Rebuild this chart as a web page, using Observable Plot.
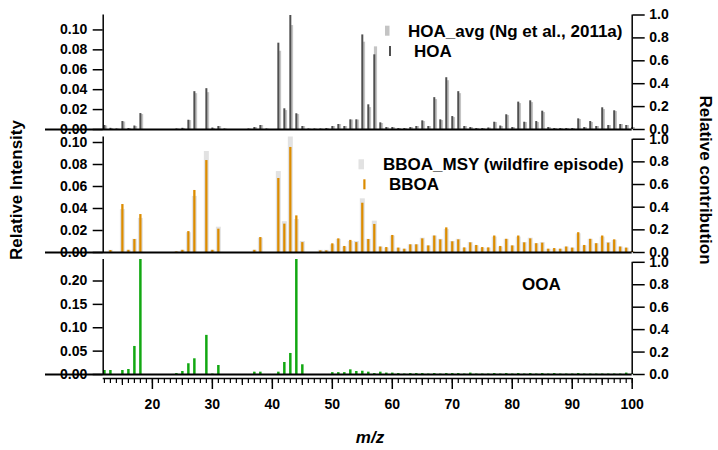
<!DOCTYPE html>
<html><head><meta charset="utf-8">
<script src="https://cdn.jsdelivr.net/npm/d3@7"></script>
<script src="https://cdn.jsdelivr.net/npm/@observablehq/plot@0.6"></script>
<style>
html,body{margin:0;padding:0;background:#fff;}
#chart{position:relative;width:718px;height:450px;font-family:"Liberation Sans",Arial,sans-serif;}
#chart svg{position:absolute;left:0;top:0;}
</style></head><body><div id="chart"></div>
<script>
// m/z categories 12..100
const mz = d3.range(12, 101);

const hoa = [
  [.004,.0012,.0005,.008,.001,.0035,.016,0],
  [0,0,0,0,.0005,.0012,.0093,.038,0,.041],
  [.0015,.003,.0005,0,0,0,.0005,.002,.004,.0005],
  [0,.0867,.0208,.1145,.0158,.003,.0005,.0005,.0005,.001],
  [.003,.005,.003,.0097,.0097,.095,.0248,.075,.0067,.002],
  [.002,.001,.001,.002,.003,.0087,.003,.032,.0097,.052],
  [.013,.038,.003,.002,.001,.001,.0015,.0073,.0035,.0148],
  [.002,.0275,.0073,.0288,.008,.0184,.002,.001,.001,.001],
  [.001,.0107,.002,.008,.003,.0218,.004,.0188,.005,.004],
  [.002]
].flat();

const hoaAvg = [
  [.0035,.001,.0005,.0075,.001,.003,.015,0],
  [0,0,0,0,.0005,.001,.009,.036,0,.037],
  [.001,.003,.0005,0,0,0,.0005,.002,.004,.0005],
  [0,.0786,.019,.1044,.015,.003,.0005,.0005,.0005,.001],
  [.003,.005,.003,.0095,.0095,.0877,.022,.083,.006,.002],
  [.002,.001,.001,.002,.003,.008,.003,.030,.009,.049],
  [.012,.036,.003,.002,.001,.001,.0015,.007,.003,.014],
  [.002,.026,.007,.027,.007,.017,.002,.001,.001,.001],
  [.001,.010,.002,.007,.003,.020,.004,.018,.005,.004],
  [.002]
].flat();

const bboa = [
  [0,.0018,0,.0436,.002,.0118,.0345,0],
  [0,0,0,0,.0005,.002,.019,.0564,0,.0836],
  [.002,.0212,0,0,0,0,0,.002,.0136,0],
  [0,.0673,.0258,.0955,.0333,.009,0,0,.0015,.0015],
  [.0079,.0124,.0055,.011,.009,.0448,.0118,.0255,.005,.0045],
  [.0155,.004,.003,.007,.007,.0124,.006,.015,.0115,.0224],
  [.0097,.0115,.0042,.0088,.0064,.0045,.0042,.015,.0055,.012],
  [.006,.015,.0088,.0124,.008,.0085,.003,.0036,.003,.005],
  [.004,.018,.0064,.012,.008,.015,.0085,.0115,.005,.004],
  [.001]
].flat();

const bboaMsy = [
  [0,.002,0,.039,.002,.012,.031,0],
  [0,0,0,0,.0005,.002,.018,.051,0,.0918],
  [.002,.023,0,0,0,0,0,.002,.013,0],
  [0,.0736,.028,.105,.030,.010,0,0,.002,.002],
  [.007,.012,.005,.010,.010,.0488,.012,.0285,.005,.004],
  [.015,.004,.003,.007,.007,.013,.006,.015,.012,.021],
  [.010,.012,.004,.009,.006,.004,.004,.014,.005,.012],
  [.006,.014,.009,.013,.008,.009,.003,.003,.003,.005],
  [.004,.017,.006,.012,.008,.014,.009,.011,.005,.004],
  [.001]
].flat();

const ooa = [
  [.0086,.0086,0,.0086,.0107,.060,.246,0],
  [0,0,0,0,.002,.0064,.023,.0336,0,.0837],
  [.001,.0193,0,0,0,0,0,.005,.005,0],
  [0,.005,.0257,.045,.246,.0208,0,0,0,0],
  [.004,.004,.004,.010,.0064,.007,.005,.002,.005,.003],
  [.003,.002,.001,.002,.002,.002,.001,.002,.001,.002],
  [.002,.002,.001,.003,.001,.001,.001,.002,.001,.002],
  [.001,.002,.001,.002,.001,.002,.001,.002,.001,.001],
  [.001,.002,.001,.001,.001,.001,.001,.001,.001,.003],
  [.001]
].flat();

const leftTicksTop = [0, 0.02, 0.04, 0.06, 0.08, 0.10];
const leftTicksBottom = [0, 0.05, 0.10, 0.15, 0.20];
const rightTicks = [0, 0.2, 0.4, 0.6, 0.8, 1.0];
const xMajor = [20, 30, 40, 50, 60, 70, 80, 90, 100];
const xMedium = [15, 25, 35, 45, 55, 65, 75, 85, 95];

const rows = mz.map((m, i) => ({mz: m, hoa: hoa[i], hoaAvg: hoaAvg[i], bboa: bboa[i], bboaMsy: bboaMsy[i], ooa: ooa[i]}));

const W = 718, H = 450;
const xDomain = [11.8, 100];
const mL = 102.7, mR = 86.3;
const pxPerUnit = (W - mL - mR) / (xDomain[1] - xDomain[0]);
const baseLeft = xDomain[0] - (mL - 45) / pxPerUnit;
const FONT = '"Liberation Sans", Arial, Helvetica, sans-serif';

function panel({top, bottom, ymax, rmax, lticks, lfmt, layers, extra = []}) {
  return Plot.plot({
    width: W, height: H,
    marginLeft: mL, marginRight: mR, marginTop: top, marginBottom: H - bottom,
    x: {domain: xDomain, axis: null},
    y: {domain: [0, ymax], axis: null},
    style: {fontFamily: FONT, fontWeight: "bold", fontSize: "14px", background: "transparent", overflow: "visible", color: "#000"},
    marks: [
      ...layers,
      Plot.ruleX([xDomain[0]], {y1: 0, y2: ymax, strokeWidth: 1.5}),
      Plot.ruleX([xDomain[1]], {y1: 0, y2: rmax, strokeWidth: 1.5}),
      Plot.ruleY([0], {x1: baseLeft, x2: xDomain[1], strokeWidth: 2}),
      Plot.axisY(lticks, {anchor: "left", tickSize: 10, tickPadding: 6, tickFormat: lfmt, strokeWidth: 1.5, label: null}),
      Plot.axisY(rightTicks.map(t => t * rmax), {anchor: "right", tickSize: 12, tickPadding: 5, tickFormat: d => (d / rmax).toFixed(1), strokeWidth: 1.5, label: null}),
      ...extra
    ]
  });
}

const chart = document.getElementById("chart");

chart.append(panel({
  top: 14.5, bottom: 129, ymax: 0.115, rmax: 0.115,
  lticks: leftTicksTop, lfmt: d3.format(".2f"),
  layers: [
    Plot.ruleX(rows, {x: "mz", y1: 0, y2: "hoaAvg", stroke: "#c4c4c4", strokeWidth: 3.2, dx: 1.2}),
    Plot.ruleX(rows, {x: "mz", y1: 0, y2: "hoa", stroke: "#505050", strokeWidth: 2})
  ]
}));

chart.append(panel({
  top: 136.5, bottom: 252, ymax: 0.105, rmax: 0.103,
  lticks: leftTicksTop, lfmt: d3.format(".2f"),
  layers: [
    Plot.ruleX(rows, {x: "mz", y1: 0, y2: "bboaMsy", stroke: "#e2e2e2", strokeWidth: 5}),
    Plot.ruleX(rows, {x: "mz", y1: 0, y2: "bboa", stroke: "#dc8c00", strokeWidth: 2.3})
  ]
}));

chart.append(panel({
  top: 259, bottom: 374, ymax: 0.246, rmax: 0.24,
  lticks: leftTicksBottom, lfmt: d3.format(".2f"),
  layers: [
    Plot.ruleX(rows, {x: "mz", y1: 0, y2: "ooa", stroke: "#12a812", strokeWidth: 2.5})
  ],
  extra: [
    Plot.ruleY([0], {x1: xDomain[0], x2: xDomain[1], dy: 4, strokeWidth: 1.5}),
    Plot.axisX(mz, {anchor: "bottom", tickSize: 5, dy: 4, tickFormat: () => "", strokeWidth: 1.2, label: null}),
    Plot.axisX(xMedium, {anchor: "bottom", tickSize: 7, dy: 4, tickFormat: () => "", strokeWidth: 1.2, label: null}),
    Plot.axisX(xMajor, {anchor: "bottom", tickSize: 11, tickPadding: 10, dy: 4, strokeWidth: 1.5, label: null})
  ]
}));

// titles and legend overlay
const svg = d3.select(chart).append("svg")
  .attr("width", W).attr("height", H)
  .style("font-family", FONT).style("font-weight", "bold");

svg.append("text").attr("transform", "translate(16,190) rotate(-90)")
  .attr("text-anchor", "middle").attr("dy", "0.35em").style("font-size", "17px").text("Relative Intensity");
svg.append("text").attr("transform", "translate(706,180) rotate(90)")
  .attr("text-anchor", "middle").attr("dy", "0.35em").style("font-size", "17px").text("Relative contribution");
svg.append("text").attr("x", 370).attr("y", 443)
  .attr("text-anchor", "middle").style("font-size", "17px").style("font-style", "italic").text("m/z");

const legends = [
  {sx: 385, sy: 25.7, sw: 4.5, sh: 10, fill: "#c4c4c4", tx: 408, ty: 36.5, label: "HOA_avg (Ng et al., 2011a)"},
  {sx: 389, sy: 46, sw: 2, sh: 10, fill: "#505050", tx: 414, ty: 56.5, label: "HOA"},
  {sx: 358.5, sy: 159.3, sw: 5.5, sh: 10, fill: "#e2e2e2", tx: 383, ty: 169.5, label: "BBOA_MSY (wildfire episode)"},
  {sx: 363.3, sy: 179.3, sw: 2.2, sh: 10, fill: "#dc8c00", tx: 389, ty: 189.5, label: "BBOA"}
];
for (const l of legends) {
  svg.append("rect").attr("x", l.sx).attr("y", l.sy).attr("width", l.sw).attr("height", l.sh).attr("fill", l.fill);
  svg.append("text").attr("x", l.tx).attr("y", l.ty).style("font-size", "17px").text(l.label);
}
svg.append("text").attr("x", 522).attr("y", 290).style("font-size", "17px").text("OOA");
</script>
</body></html>
